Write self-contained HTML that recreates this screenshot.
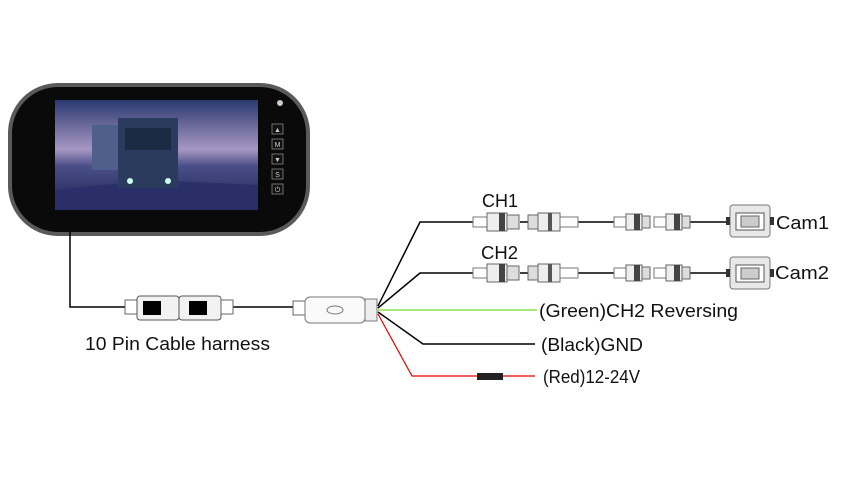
<!DOCTYPE html><html><head><style>body{margin:0;background:#fff}svg{display:block}text{font-family:"Liberation Sans",sans-serif;fill:#111}</style></head><body>
<svg width="845" height="481" viewBox="0 0 845 481" xmlns="http://www.w3.org/2000/svg">
<defs>
<linearGradient id="sky" x1="0" y1="0" x2="0" y2="1"><stop offset="0" stop-color="#2a3a70"/><stop offset="0.45" stop-color="#a897c4"/><stop offset="0.6" stop-color="#4a4f88"/><stop offset="1" stop-color="#1d2350"/></linearGradient>
<g id="conn"><rect x="0" y="-5" width="14" height="10" fill="#fff" stroke="#777"/><rect x="14" y="-9" width="20" height="18" fill="#eee" stroke="#666"/><rect x="26" y="-9" width="6" height="18" fill="#444"/><rect x="34" y="-7" width="12" height="14" fill="#ddd" stroke="#666"/></g>
<g id="conn2"><rect x="0" y="-7" width="10" height="14" fill="#ddd" stroke="#666"/><rect x="10" y="-9" width="22" height="18" fill="#eee" stroke="#666"/><rect x="20" y="-9" width="4" height="18" fill="#555"/><rect x="32" y="-5" width="18" height="10" fill="#fff" stroke="#777"/></g>
<g id="small"><rect x="0" y="-5" width="12" height="10" fill="#fff" stroke="#777"/><rect x="12" y="-8" width="16" height="16" fill="#eee" stroke="#666"/><rect x="20" y="-8" width="6" height="16" fill="#444"/><rect x="28" y="-6" width="8" height="12" fill="#ddd" stroke="#666"/></g>
<g id="cam"><rect x="0" y="0" width="40" height="32" rx="3" fill="#e8e8e8" stroke="#777"/><rect x="6" y="8" width="28" height="17" fill="#fff" stroke="#555"/><rect x="11" y="11" width="18" height="11" fill="#ccc" stroke="#666"/><rect x="-4" y="12" width="4" height="8" fill="#333"/><rect x="40" y="12" width="4" height="8" fill="#333"/></g>
</defs>
<rect x="8" y="83" width="302" height="153" rx="50" fill="#5a5a5a"/>
<rect x="12" y="87" width="294" height="145" rx="46" fill="#0a0a0a"/>
<rect x="55" y="100" width="203" height="110" fill="url(#sky)"/>
<polygon points="55,210 258,210 258,185 150,180 55,190" fill="#2a2f6a"/>
<rect x="92" y="125" width="40" height="45" fill="#4d5f8a"/>
<rect x="118" y="118" width="60" height="70" fill="#2b3b5e"/>
<rect x="125" y="128" width="46" height="22" fill="#1c2a44"/>
<circle cx="130" cy="181" r="3" fill="#cfe"/><circle cx="168" cy="181" r="3" fill="#cfe"/>
<circle cx="280" cy="103" r="3" fill="#ccc"/>
<g fill="#111" stroke="#888" stroke-width="0.8"><rect x="272" y="124" width="11" height="10"/><rect x="272" y="139" width="11" height="10"/><rect x="272" y="154" width="11" height="10"/><rect x="272" y="169" width="11" height="10"/><rect x="272" y="184" width="11" height="10"/></g>
<g font-size="7" text-anchor="middle"><text x="277.5" y="132" style="fill:#ccc">▲</text><text x="277.5" y="147" style="fill:#ccc">M</text><text x="277.5" y="162" style="fill:#ccc">▼</text><text x="277.5" y="177" style="fill:#ccc">S</text><text x="277.5" y="192" style="fill:#ccc">⏻</text></g>
<g fill="none" stroke="#000" stroke-width="1.5"><polyline points="70,232 70,307 125,307"/><line x1="233" y1="307" x2="293" y2="307"/>
<polyline points="378,306 420,222 473,222"/><polyline points="378,308 420,273 473,273"/><polyline points="378,312 423,344 535,344"/>
<line x1="520" y1="222" x2="528" y2="222"/><line x1="578" y1="222" x2="614" y2="222"/><line x1="690" y1="222" x2="728" y2="222"/>
<line x1="520" y1="273" x2="528" y2="273"/><line x1="578" y1="273" x2="614" y2="273"/><line x1="690" y1="273" x2="728" y2="273"/></g>
<line x1="378" y1="310" x2="537" y2="310" stroke="#8be04a" stroke-width="1.5"/>
<polyline points="378,314 412,376 535,376" fill="none" stroke="#e00" stroke-width="1.2"/>
<rect x="477" y="373" width="26" height="7" fill="#222"/>
<rect x="125" y="300" width="12" height="14" fill="#fff" stroke="#666"/>
<rect x="137" y="296" width="42" height="24" rx="3" fill="#f2f2f2" stroke="#555"/>
<rect x="143" y="301" width="18" height="14" fill="#000"/>
<rect x="179" y="296" width="42" height="24" rx="3" fill="#f2f2f2" stroke="#555"/>
<rect x="189" y="301" width="18" height="14" fill="#000"/>
<rect x="221" y="300" width="12" height="14" fill="#fff" stroke="#666"/>
<rect x="293" y="301" width="12" height="14" fill="#fff" stroke="#666"/>
<rect x="305" y="297" width="60" height="26" rx="5" fill="#fafafa" stroke="#777"/>
<ellipse cx="335" cy="310" rx="8" ry="4" fill="none" stroke="#777"/>
<rect x="365" y="299" width="12" height="22" fill="#eee" stroke="#777"/>
<use href="#conn" x="473" y="222"/><use href="#conn2" x="528" y="222"/><use href="#small" x="614" y="222"/><use href="#small" x="654" y="222"/><use href="#cam" x="730" y="205"/>
<use href="#conn" x="473" y="273"/><use href="#conn2" x="528" y="273"/><use href="#small" x="614" y="273"/><use href="#small" x="654" y="273"/><use href="#cam" x="730" y="257"/>
<g font-size="18"><text x="482" y="207" textLength="36" lengthAdjust="spacingAndGlyphs">CH1</text><text x="481" y="259" textLength="37" lengthAdjust="spacingAndGlyphs">CH2</text><text x="776" y="229" textLength="53" lengthAdjust="spacingAndGlyphs">Cam1</text><text x="775" y="279" textLength="54" lengthAdjust="spacingAndGlyphs">Cam2</text>
<text x="539" y="317" textLength="199" lengthAdjust="spacingAndGlyphs">(Green)CH2 Reversing</text><text x="541" y="351" textLength="102" lengthAdjust="spacingAndGlyphs">(Black)GND</text><text x="543" y="383" textLength="97" lengthAdjust="spacingAndGlyphs">(Red)12-24V</text>
<text x="85" y="350" textLength="185" lengthAdjust="spacingAndGlyphs">10 Pin Cable harness</text></g>
</svg></body></html>
